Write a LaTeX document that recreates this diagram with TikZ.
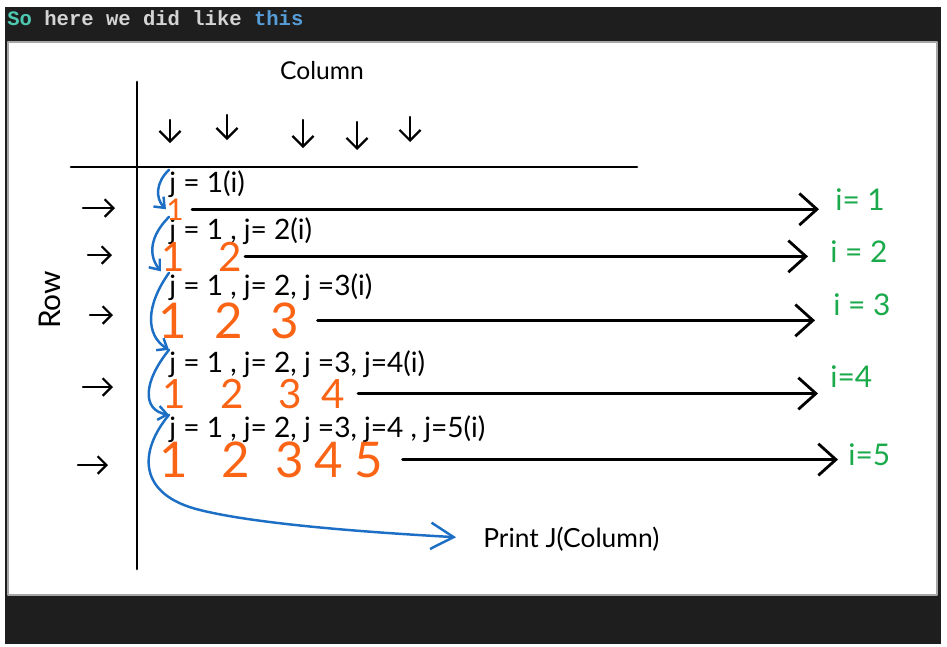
\documentclass[tikz,border=0pt]{standalone}
\usepackage{fontspec}
\setmainfont{Lato}
\newfontfamily\codefont{Liberation Mono}
\usetikzlibrary{arrows.meta,positioning}

\definecolor{panel}{HTML}{1E1E1E}
\definecolor{kwteal}{HTML}{4EC9B0}
\definecolor{kwgray}{HTML}{D4D4D4}
\definecolor{kwblue}{HTML}{569CD6}
\definecolor{inkorange}{RGB}{250,100,20}
\definecolor{inkblue}{RGB}{28,111,196}
\definecolor{inkgreen}{RGB}{27,170,75}

\begin{document}
\begin{tikzpicture}%
  [x=0.02cm, y=-0.02cm,
   line cap=round, line join=round,
   axis/.style={line width=1.6pt},
   tick/.style={line width=1.3pt, -{Straight Barb[length=6pt,width=12pt]}},
   rowtick/.style={line width=1.3pt, -{Straight Barb[length=5pt,width=10pt]}},
   bigarrow/.style={line width=1.6pt, -{Straight Barb[length=10pt,width=18pt]}},
   loopback/.style={draw=inkblue, line width=1.4pt, -{Straight Barb[length=5pt,width=8pt]}},
   hand/.style={inner sep=0pt, font=\fontsize{14}{14}\selectfont},
   jtext/.style={inner sep=0pt, anchor=base west, font=\fontsize{16}{16}\selectfont},
   digit/.style={inner sep=0pt, anchor=base, text=inkorange},
   digitS/.style={digit, font=\fontsize{17}{17}\selectfont},
   digitM/.style={digit, font=\fontsize{23}{23}\selectfont},
   digitL/.style={digit, font=\fontsize{28}{28}\selectfont},
   ilabel/.style={inner sep=0pt, anchor=west, text=inkgreen, font=\fontsize{17}{17}\selectfont}
  ]
\useasboundingbox (0,0) rectangle (947,646);

% window
\fill[panel] (5,7) rectangle (941,644);
\fill[white] (8,42) rectangle (937,595);
\draw[black!35, line width=0.6pt] (8,42) rectangle (937,595);
\node[anchor=base west, inner sep=0pt, font=\codefont\bfseries\fontsize{11.7}{12}\selectfont]
  (title) at (7,25) {\textcolor{kwteal}{So} \textcolor{kwgray}{here we did like} \textcolor{kwblue}{this}};

% axes
\coordinate (vtop)   at (137,82);
\coordinate (vbot)   at (137,569);
\coordinate (hleft)  at (71,167);
\coordinate (hright) at (637,167);
\draw[axis] (vtop) -- (vbot);
\draw[axis] (hleft) -- (hright);

\node[hand] (column) at (322,71) {Column};
\node[hand, rotate=90, font=\fontsize{17}{17}\selectfont] (row) at (50,300) {Row};

% column ticks
\draw[tick] (170,120) -- (170,143);
\draw[tick] (227,115) -- (227,140);
\draw[tick] (303,120) -- (303,148);
\draw[tick] (357,122) -- (357,150);
\draw[tick] (410,117) -- (410,142);

% row ticks
\draw[rowtick] (83,208) -- (115,208);
\draw[rowtick] (88,255) -- (112,255);
\draw[rowtick] (90,315) -- (113,315);
\draw[rowtick] (83,387) -- (113,387);
\draw[rowtick] (78,465) -- (108,465);

% inner loop
\node[jtext] (j1) at (169,192) {j = 1(i)};
\node[jtext] (j2) at (169,239) {j = 1 , j= 2(i)};
\node[jtext] (j3) at (169,295) {j = 1 , j= 2, j =3(i)};
\node[jtext] (j4) at (169,372) {j = 1 , j= 2, j =3, j=4(i)};
\node[jtext] (j5) at (169,437) {j = 1 , j= 2, j =3, j=4 , j=5(i)};

\node[digitS] (d1-1) at (175,220) {1};

\node[digitM] (d2-1) at (173,271) {1};
\node[digitM] (d2-2) at (230,271) {2};

\node[digitL] (d3-1) at (173,338) {1};
\node[digitL] (d3-2) at (229,338) {2};
\node[digitL] (d3-3) at (285,338) {3};

\node[digitM] (d4-1) at (174,408) {1};
\node[digitM] (d4-2) at (232,408) {2};
\node[digitM] (d4-3) at (290,408) {3};
\node[digitM] (d4-4) at (333,408) {4};

\node[digitL] (d5-1) at (174,477) {1};
\node[digitL] (d5-2) at (236,477) {2};
\node[digitL] (d5-3) at (290,477) {3};
\node[digitL] (d5-4) at (329,477) {4};
\node[digitL] (d5-5) at (369,477) {5};

% outer loop
\node[ilabel] (i1) at (835,200) {i= 1};
\node[ilabel] (i2) at (830,252) {i = 2};
\node[ilabel] (i3) at (833,305) {i = 3};
\node[ilabel] (i4) at (830,377) {i=4};
\node[ilabel] (i5) at (848,455) {i=5};

\path[bigarrow]
%   FROM          GAPS                                  TO
   (d1-1.east) edge[shorten <=0.16cm, shorten >=0.32cm] (d1-1.east -| i1.west)
   (d2-2.east) edge[shorten <=0.06cm, shorten >=0.44cm] (d2-2.east -| i2.west)
   (d3-3.east) edge[shorten <=0.36cm, shorten >=0.36cm] (d3-3.east -| i3.west)
   (d4-4.east) edge[shorten <=0.26cm, shorten >=0.24cm] (d4-4.east -| i4.west)
   (d5-5.east) edge[shorten <=0.38cm, shorten >=0.20cm] (d5-5.east -| i5.west)
   ;

% blue hooks
\node[hand, anchor=base west, font=\fontsize{15}{15}\selectfont] (print) at (483,547) {Print J(Column)};
\draw[loopback] (j1.north west) .. controls (156,182) and (155,198) .. (d1-1.west);
\draw[loopback] (j2.north west) .. controls (150,236) and (148,255) .. (d2-1.south west);
\draw[loopback] (j3.north west) .. controls (146,305) and (145,335) .. (j4.north west);
\draw[loopback] (j4.north west) .. controls (143,382) and (142,410) .. (j5.north west);
\draw[loopback, -{Straight Barb[length=13pt,width=15pt]}, shorten >=0.54cm]
  (j5.north west) .. controls (138,452) and (138,495) .. (200,510)
                  .. controls (260,525) and (380,533) .. (print.west);
\end{tikzpicture}
\end{document}
